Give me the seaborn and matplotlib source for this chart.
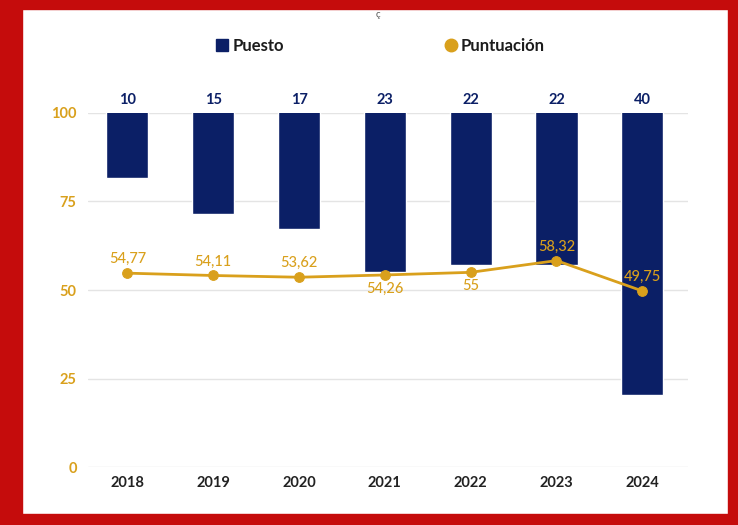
import matplotlib
matplotlib.use("Agg")
import matplotlib.pyplot as plt
import seaborn as sns
import pandas as pd
from matplotlib.lines import Line2D
from matplotlib.patches import Rectangle

# Datos
years = ["2018", "2019", "2020", "2021", "2022", "2023", "2024"]
puesto = [10, 15, 17, 23, 22, 22, 40]
puntuacion = [54.77, 54.11, 53.62, 54.26, 55.00, 58.32, 49.75]
puntuacion_txt = ["54,77", "54,11", "53,62", "54,26", "55", "58,32", "49,75"]
label_below = [False, False, False, True, True, False, False]
y_ticks = [0, 25, 50, 75, 100]

NAVY = "#0b1f66"
GOLD = "#d9a01c"
RED = "#c50c0c"

df = pd.DataFrame({"year": years, "puesto": puesto, "puntuacion": puntuacion})

sns.set_style("white")
plt.rcParams["font.family"] = ["Lato", "DejaVu Sans"]

fig = plt.figure(figsize=(7.38, 5.25), dpi=100)
ax = fig.add_axes([0.119, 0.110, 0.813, 0.675])

# eje principal: puntuacion 0-100 con rejilla
ax.set_ylim(0, 100)
ax.set_xlim(-0.46, 6.53)
ax.set_yticks(y_ticks)
ax.grid(axis="y", color="#e4e4e4", linewidth=1)
ax.set_axisbelow(True)
for s in ax.spines.values():
    s.set_visible(False)
ax.tick_params(axis="both", length=0)
ax.tick_params(axis="y", pad=8, labelsize=10.5, labelcolor=GOLD)
ax.tick_params(axis="x", pad=6, labelsize=10.5, labelcolor="#222222")
ax.set_xticks(range(len(years)))
ax.set_xticklabels(years, fontweight="bold")
for t in ax.get_yticklabels():
    t.set_fontweight("bold")
ax.set_xlabel("")
ax.set_ylabel("")

# eje de barras: puesto invertido, colgando desde 100
ax2 = ax.twinx()
sns.barplot(data=df, x="year", y="puesto", color=NAVY, width=0.49,
            saturation=1, ax=ax2)
ax2.set_ylim(50, 1)
ax2.set_xlim(-0.46, 6.53)
ax2.set_yticks([])
ax2.set_ylabel("")
ax2.set_xlabel("")
for s in ax2.spines.values():
    s.set_visible(False)
ax2.patch.set_visible(False)

# eje de linea: puntuacion encima de las barras
ax3 = ax.twinx()
ax3.set_ylim(0, 100)
sns.lineplot(x=list(range(len(years))), y=puntuacion, color=GOLD, linewidth=2,
             marker="o", markersize=7, markeredgecolor=GOLD, ax=ax3)
ax3.set_xlim(-0.46, 6.53)
ax3.set_yticks([])
for s in ax3.spines.values():
    s.set_visible(False)
ax3.patch.set_visible(False)

for i, (v, txt, below) in enumerate(zip(puntuacion, puntuacion_txt, label_below)):
    ax3.annotate(txt, (i, v), xytext=(0, -10 if below else 10),
                 textcoords="offset points", ha="center", va="center",
                 color=GOLD, fontsize=10.5, fontweight="medium")

for i, p in enumerate(puesto):
    ax3.annotate(str(p), (i, 100), xytext=(0, 9), textcoords="offset points",
                 ha="center", va="center", color=NAVY, fontsize=10.5,
                 fontweight="bold", annotation_clip=False)

# leyenda
handles = [
    Line2D([], [], linestyle="none", marker="s", markersize=9,
           markerfacecolor=NAVY, markeredgecolor=NAVY, label="Puesto"),
    Line2D([], [], linestyle="none", marker="o", markersize=9,
           markerfacecolor=GOLD, markeredgecolor=GOLD, label="Puntuación"),
]
leg = fig.legend(handles=handles, loc="center", bbox_to_anchor=(0.514, 0.912),
                 ncol=2, frameon=False, columnspacing=9.5, handletextpad=0.1,
                 handlelength=1.0, prop={"weight": "bold", "size": 12})
for t in leg.get_texts():
    t.set_color("#1c1c1c")

fig.text(0.512, 0.973, "ç", ha="center", va="center", fontsize=7, color="#555555")

# marco rojo
W, H = 738, 525
for x0, y0, w, h in [(0, 0, 22, H), (728, 0, 10, H), (0, 0, W, 9), (0, 514, W, 11)]:
    fig.patches.append(Rectangle((x0 / W, 1 - (y0 + h) / H), w / W, h / H,
                                 transform=fig.transFigure, color=RED, zorder=10))

fig.savefig("out.png", dpi=100)
